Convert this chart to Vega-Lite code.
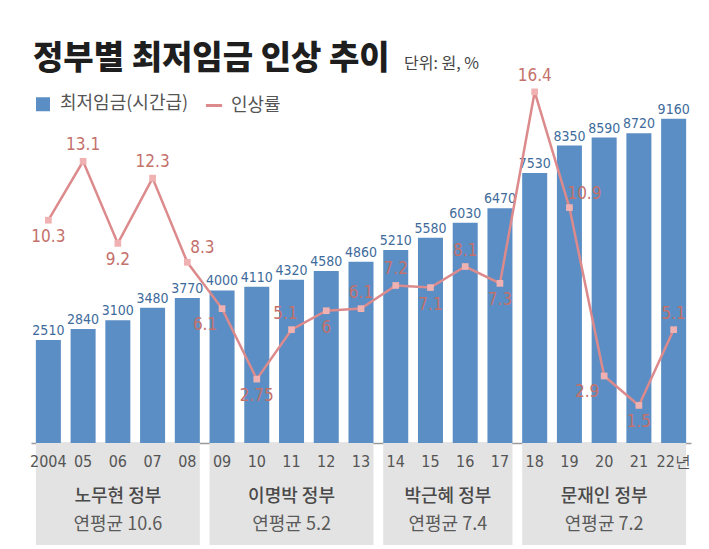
{
  "$schema": "https://vega.github.io/schema/vega-lite/v6.json",
  "background": "white",
  "padding": {"left": 30, "top": 43, "right": 10, "bottom": 0},
  "title": {
    "text": "정부별 최저임금 인상 추이",
    "anchor": "start",
    "frame": "group",
    "dx": 2,
    "offset": -20,
    "font": "Noto Sans CJK KR",
    "fontSize": 33,
    "fontWeight": 900,
    "color": "#1e1e1e"
  },
  "config": {"view": {"stroke": null}, "font": "Noto Sans CJK KR"},
  "spacing": 0,
  "datasets": {
    "wage": [
      {"year": 2004, "label": "2004", "wage": 2510, "rate": 10.3},
      {"year": 2005, "label": "05", "wage": 2840, "rate": 13.1},
      {"year": 2006, "label": "06", "wage": 3100, "rate": 9.2},
      {"year": 2007, "label": "07", "wage": 3480, "rate": 12.3},
      {"year": 2008, "label": "08", "wage": 3770, "rate": 8.3},
      {"year": 2009, "label": "09", "wage": 4000, "rate": 6.1},
      {"year": 2010, "label": "10", "wage": 4110, "rate": 2.75},
      {"year": 2011, "label": "11", "wage": 4320, "rate": 5.1},
      {"year": 2012, "label": "12", "wage": 4580, "rate": 6},
      {"year": 2013, "label": "13", "wage": 4860, "rate": 6.1},
      {"year": 2014, "label": "14", "wage": 5210, "rate": 7.2},
      {"year": 2015, "label": "15", "wage": 5580, "rate": 7.1},
      {"year": 2016, "label": "16", "wage": 6030, "rate": 8.1},
      {"year": 2017, "label": "17", "wage": 6470, "rate": 7.3},
      {"year": 2018, "label": "18", "wage": 7530, "rate": 16.4},
      {"year": 2019, "label": "19", "wage": 8350, "rate": 10.9},
      {"year": 2020, "label": "20", "wage": 8590, "rate": 2.9},
      {"year": 2021, "label": "21", "wage": 8720, "rate": 1.5},
      {"year": 2022, "label": "22년", "wage": 9160, "rate": 5.1}
    ],
    "gov": [
      {"gov": "노무현 정부", "from": 2004, "to": 2008, "avg": 10.6},
      {"gov": "이명박 정부", "from": 2009, "to": 2013, "avg": 5.2},
      {"gov": "박근혜 정부", "from": 2014, "to": 2017, "avg": 7.4},
      {"gov": "문재인 정부", "from": 2018, "to": 2022, "avg": 7.2}
    ]
  },
  "vconcat": [
    {
      "width": 660,
      "height": 352,
      "data": {"name": "wage"},
      "encoding": {
        "x": {
          "field": "label",
          "type": "nominal",
          "sort": null,
          "scale": {"paddingInner": 0.28, "paddingOuter": 0.14},
          "axis": {"labels": false, "ticks": false, "title": null, "domainColor": "#9a9a9a", "domainWidth": 1.5}
        }
      },
      "layer": [
        {
          "mark": {"type": "bar"},
          "encoding": {
            "y": {"field": "wage", "type": "quantitative", "scale": {"domain": [-586, 9991]}, "axis": null},
            "y2": {"datum": -586},
            "color": {
              "datum": "최저임금(시간급)",
              "type": "nominal",
              "scale": {"domain": ["최저임금(시간급)", "인상률"], "range": ["#5b8ec4", "#dc8a8c"]},
              "legend": {
                "orient": "none",
                "legendX": 3,
                "legendY": 4,
                "direction": "horizontal",
                "title": null,
                "labelFont": "Noto Sans CJK KR",
                "labelFontSize": 18,
                "labelColor": "#555555",
                "labelOffset": 8,
                "columnPadding": 10,
                "symbolSize": 120,
                "encode": {
                  "symbols": {
                    "update": {
                      "shape": {"signal": "datum.value === '인상률' ? 'stroke' : 'square'"},
                      "size": {"signal": "datum.value === '인상률' ? 260 : 120"},
                      "fill": {"signal": "datum.value === '인상률' ? 'transparent' : '#5b8ec4'"},
                      "stroke": {"signal": "datum.value === '인상률' ? '#dc8a8c' : 'transparent'"},
                      "strokeWidth": {"value": 3}
                    }
                  }
                }
              }
            }
          }
        },
        {
          "mark": {"type": "text", "baseline": "bottom", "dy": -2, "font": "DejaVu Sans Condensed, DejaVu Sans", "fontSize": 14, "color": "#3e6b9b"},
          "encoding": {
            "y": {"field": "wage", "type": "quantitative", "scale": {"domain": [-586, 9991]}, "axis": null},
            "text": {"field": "wage", "type": "quantitative", "format": "d"}
          }
        },
        {
          "mark": {"type": "line", "strokeWidth": 2.5},
          "encoding": {
            "y": {"field": "rate", "type": "quantitative", "scale": {"domain": [-0.285, 16.44]}, "axis": null},
            "color": {"datum": "인상률", "type": "nominal"}
          }
        },
        {
          "mark": {"type": "point", "shape": "square", "filled": true, "size": 45, "color": "#efb1b1", "opacity": 1},
          "encoding": {
            "y": {"field": "rate", "type": "quantitative", "scale": {"domain": [-0.285, 16.44]}, "axis": null}
          }
        },
        {
          "transform": [{"filter": {"field": "label", "oneOf": ["05", "07", "13", "14", "16", "18", "22년"]}}],
          "mark": {"type": "text", "dy": -16, "font": "DejaVu Sans Condensed, DejaVu Sans", "fontSize": 17, "color": "#c4706b"},
          "encoding": {
            "y": {"field": "rate", "type": "quantitative", "scale": {"domain": [-0.285, 16.44]}, "axis": null},
            "text": {"field": "rate", "type": "quantitative"}
          }
        },
        {
          "transform": [{"filter": {"field": "label", "oneOf": ["08", "19"]}}],
          "mark": {"type": "text", "dx": 15, "dy": -14, "font": "DejaVu Sans Condensed, DejaVu Sans", "fontSize": 17, "color": "#c4706b"},
          "encoding": {
            "y": {"field": "rate", "type": "quantitative", "scale": {"domain": [-0.285, 16.44]}, "axis": null},
            "text": {"field": "rate", "type": "quantitative"}
          }
        },
        {
          "transform": [{"filter": {"field": "label", "oneOf": ["11"]}}],
          "mark": {"type": "text", "dx": -6, "dy": -16, "font": "DejaVu Sans Condensed, DejaVu Sans", "fontSize": 17, "color": "#c4706b"},
          "encoding": {
            "y": {"field": "rate", "type": "quantitative", "scale": {"domain": [-0.285, 16.44]}, "axis": null},
            "text": {"field": "rate", "type": "quantitative"}
          }
        },
        {
          "transform": [{"filter": {"field": "label", "oneOf": ["2004", "06", "10", "12", "15", "17", "21"]}}],
          "mark": {"type": "text", "dy": 17, "font": "DejaVu Sans Condensed, DejaVu Sans", "fontSize": 17, "color": "#c4706b"},
          "encoding": {
            "y": {"field": "rate", "type": "quantitative", "scale": {"domain": [-0.285, 16.44]}, "axis": null},
            "text": {"field": "rate", "type": "quantitative"}
          }
        },
        {
          "transform": [{"filter": {"field": "label", "oneOf": ["09", "20"]}}],
          "mark": {"type": "text", "dx": -17, "dy": 16, "font": "DejaVu Sans Condensed, DejaVu Sans", "fontSize": 17, "color": "#c4706b"},
          "encoding": {
            "y": {"field": "rate", "type": "quantitative", "scale": {"domain": [-0.285, 16.44]}, "axis": null},
            "text": {"field": "rate", "type": "quantitative"}
          }
        },
        {
          "data": {"values": [{"unit": "단위: 원, %"}]},
          "mark": {"type": "text", "align": "left", "baseline": "middle", "font": "Noto Sans CJK KR", "fontSize": 16, "fontWeight": 400, "color": "#444444"},
          "encoding": {"x": {"value": 373}, "y": {"value": -27}, "text": {"field": "unit"}}
        }
      ],
      "resolve": {"scale": {"y": "independent"}}
    },
    {
      "width": 660,
      "height": 102,
      "layer": [
        {
          "data": {"name": "gov"},
          "mark": {"type": "rect", "color": "#e3e3e3", "xOffset": -12.5, "x2Offset": 12.5},
          "encoding": {
            "x": {"field": "from", "type": "quantitative", "scale": {"domain": [2003.5, 2022.5], "nice": false, "zero": false}, "axis": null},
            "x2": {"field": "to"},
            "y": {"datum": 0, "type": "quantitative", "scale": {"domain": [0, 102], "reverse": true, "nice": false, "zero": false}, "axis": null},
            "y2": {"datum": 102}
          }
        },
        {
          "data": {"name": "wage"},
          "mark": {"type": "text", "baseline": "middle", "font": "DejaVu Sans Condensed, DejaVu Sans", "fontSize": 16, "color": "#555555"},
          "encoding": {
            "x": {"field": "year", "type": "quantitative", "scale": {"domain": [2003.5, 2022.5], "nice": false, "zero": false}, "axis": null},
            "y": {"datum": 19, "type": "quantitative"},
            "text": {"field": "label"}
          }
        },
        {
          "data": {"name": "gov"},
          "transform": [{"calculate": "(datum.from + datum.to) / 2", "as": "mid"}],
          "mark": {"type": "text", "baseline": "middle", "font": "Noto Sans CJK KR", "fontSize": 18, "fontWeight": 500, "color": "#4a4a4a"},
          "encoding": {
            "x": {"field": "mid", "type": "quantitative", "scale": {"domain": [2003.5, 2022.5], "nice": false, "zero": false}, "axis": null},
            "y": {"datum": 54, "type": "quantitative"},
            "text": {"field": "gov"}
          }
        },
        {
          "data": {"name": "gov"},
          "transform": [
            {"calculate": "(datum.from + datum.to) / 2", "as": "mid"},
            {"calculate": "'연평균 ' + datum.avg", "as": "avgText"}
          ],
          "mark": {"type": "text", "baseline": "middle", "font": "Noto Sans CJK KR", "fontSize": 18, "color": "#5a5a5a"},
          "encoding": {
            "x": {"field": "mid", "type": "quantitative", "scale": {"domain": [2003.5, 2022.5], "nice": false, "zero": false}, "axis": null},
            "y": {"datum": 82, "type": "quantitative"},
            "text": {"field": "avgText"}
          }
        }
      ]
    }
  ]
}
